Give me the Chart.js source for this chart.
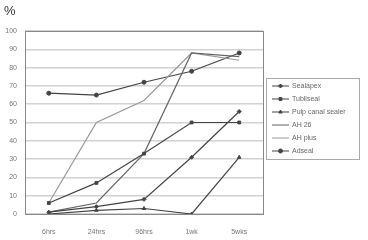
<!DOCTYPE html>
<html>
<head>
<meta charset="utf-8">
<script src="https://cdn.jsdelivr.net/npm/chart.js@4"></script>
<style>
    body { margin: 0; background: #fff; }
    #wrap { width: 368px; height: 240px; }
</style>
</head>
<body>
<div id="wrap"><canvas id="chart" width="368" height="240"></canvas></div>
<script>
let labels = ["6hrs", "24hrs", "96hrs", "1wk", "5wks"];
let sealapex = [1, 4, 8, 31, 56];
let tubliseal = [6, 17, 33, 50, 50];
let pulpCanal = [0, 2, 3, 0, 31];
let ah26 = [1, 6, 33, 88, 86];
let ahPlus = [6, 50, 62, 88, 84];
let adseal = [66, 65, 72, 78, 88];

function makeSet(label, data, color, style, radius) {
    return {
        label: label,
        data: data,
        borderColor: color,
        backgroundColor: color,
        borderWidth: 1.2,
        pointStyle: style,
        pointRadius: radius,
        pointBorderWidth: 1,
        tension: 0
    };
}

// frame round the plot area, the % title and the boxed legend
const decor = {
    id: 'decor',
    beforeDraw(chart) {
        const ctx = chart.ctx;
        ctx.save();
        ctx.fillStyle = '#fff';
        ctx.fillRect(0, 0, chart.width, chart.height);
        ctx.restore();
    },
    afterDraw(chart) {
        const ctx = chart.ctx;
        const a = chart.chartArea;
        ctx.save();
        ctx.strokeStyle = '#888';
        ctx.lineWidth = 1;
        ctx.strokeRect(a.left + 0.5, a.top + 0.5, a.right - a.left, a.bottom - a.top);

        ctx.fillStyle = '#333';
        ctx.font = '13px "Liberation Sans"';
        ctx.textBaseline = 'top';
        ctx.fillText('%', 4, 5);

        ctx.strokeStyle = '#aaa';
        ctx.strokeRect(266.5, 78.5, 93, 81);
        ctx.font = '7px "Liberation Sans"';
        ctx.textBaseline = 'middle';
        chart.data.datasets.forEach((ds, i) => {
            const y = 86 + i * 13;
            ctx.strokeStyle = ds.borderColor;
            ctx.lineWidth = 1;
            ctx.beginPath();
            ctx.moveTo(272, y);
            ctx.lineTo(289, y);
            ctx.stroke();
            if (ds.pointRadius > 0) {
                ctx.fillStyle = ds.backgroundColor;
                Chart.helpers.drawPoint(ctx, {
                    pointStyle: ds.pointStyle,
                    radius: ds.pointRadius,
                    borderWidth: 1,
                    rotation: 0
                }, 280.5, y);
            }
            ctx.fillStyle = '#666';
            ctx.fillText(ds.label, 292, y);
        });
        ctx.restore();
    }
};

new Chart(document.getElementById("chart"), {
    type: 'line',
    data: {
        labels: labels,
        datasets: [
            makeSet("Sealapex", sealapex, '#444', 'rectRot', 2),
            makeSet("Tubliseal", tubliseal, '#444', 'rect', 2),
            makeSet("Pulp canal sealer", pulpCanal, '#444', 'triangle', 2),
            makeSet("AH 26", ah26, '#666', 'circle', 0),
            makeSet("AH plus", ahPlus, '#999', 'circle', 0),
            makeSet("Adseal", adseal, '#444', 'circle', 2)
        ]
    },
    options: {
        responsive: false,
        animation: false,
        layout: { padding: { left: 0, top: 31, right: 105, bottom: 0 } },
        plugins: {
            legend: { display: false },
            tooltip: { enabled: false }
        },
        scales: {
            x: {
                offset: true,
                grid: { display: false },
                border: { display: false },
                ticks: { color: '#777', font: { family: 'Liberation Sans', size: 7 }, padding: 6 },
                afterFit(scale) { scale.height = 26; }
            },
            y: {
                min: 0,
                max: 100,
                grid: { color: '#d2d2d2', lineWidth: 1.5, drawTicks: false },
                border: { display: false },
                ticks: { stepSize: 10, color: '#777', font: { family: 'Liberation Sans', size: 7 }, padding: 8 },
                afterFit(scale) { scale.width = 25; }
            }
        }
    },
    plugins: [decor]
});
</script>
</body>
</html>
